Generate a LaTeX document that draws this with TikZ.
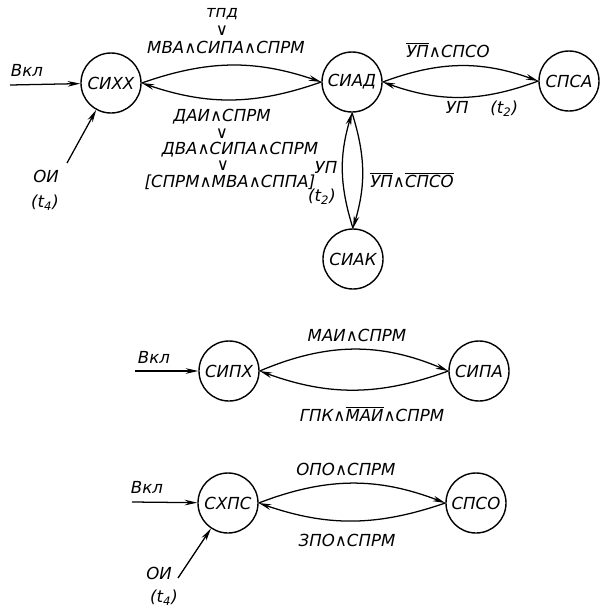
\documentclass[tikz,border=0pt]{standalone}
\usepackage{fontspec}
\setmainfont{DejaVu Sans}
\usetikzlibrary{arrows.meta}
\newcommand{\ngt}[1]{$\overline{\mbox{#1}}$}
\tikzset{
	state/.style={circle, draw, line width=1pt, minimum size=1.5cm, inner sep=0pt},
	arr/.style={-{Stealth[length=9pt,width=4pt]}, line width=0.9pt},
	every node/.style={font=\itshape\fontsize{11.8}{13}\selectfont, inner sep=1pt}
}
\begin{document}
\begin{tikzpicture}
	[x=0.025cm, y=-0.025cm]
	\useasboundingbox (0,0) rectangle (600,608);
	\node[state] (sixx) at (111,83) {СИХХ};
	\node[state] (siad) at (352,82) {СИАД};
	\node[state] (spsa) at (569,81) {СПСА};
	\node[state] (siak) at (353,259) {СИАК};
	\node[state] (sipx) at (229,371) {СИПХ};
	\node[state] (sipa) at (479,371) {СИПА};
	\node[state] (sxps) at (228,503) {СХПС};
	\node[state] (spso) at (476,503) {СПСО};

	\draw[arr] (sixx.east) to[bend left=19] (siad.west);
	\draw[arr] (siad.west) to[bend left=19] (sixx.east);
	\draw[arr] (siad.east) to[bend left=20] (spsa.west);
	\draw[arr] (spsa.west) to[bend left=20] (siad.east);
	\draw[arr] (siak.north) to[bend left=17] (siad.south);
	\draw[arr] (siad.south) to[bend left=17] (siak.north);
	\draw[arr] (sipx.east) to[bend left=23] (sipa.west);
	\draw[arr] (sipa.west) to[bend left=20] (sipx.east);
	\draw[arr] (sxps.east) to[bend left=21] (spso.west);
	\draw[arr] (spso.west) to[bend left=19] (sxps.east);

	\node (vkl1) at (27,70) {Вкл};
	\coordinate (vkl1a) at (10,85);
	\draw[arr] (vkl1a) -- (sixx);
	\node (oi1) at (46,176) {ОИ};
	\node (t41) at (45,203) {(t\textsubscript{4})};
	\coordinate (oi1a) at (67,163);
	\draw[arr] (oi1a) -- (sixx);

	\node (tpd) at (222,14) {тпд};
	\node[inner sep=0pt] (or1) at (222,31) {∨};
	\node (mva) at (226,47) {МВА∧СИПА∧СПРМ};
	\node (dai) at (222,117) {ДАИ∧СПРМ};
	\node[inner sep=0pt] (or2) at (222,134) {∨};
	\node (dva) at (240,150) {ДВА∧СИПА∧СПРМ};
	\node[inner sep=0pt] (or3) at (223,166) {∨};
	\node (sprm) at (230,182) {[СПРМ∧МВА∧СППА]};

	\node (nup1) at (448,50) {\ngt{УП}∧СПСО};
	\node (up1) at (482,109) {УП \quad(t\textsubscript{2})};
	\node (up2) at (326,167) {УП};
	\node (t2) at (322,197) {(t\textsubscript{2})};
	\node (nup2) at (412,180) {\ngt{УП}∧\ngt{СПСО}};

	\node (mai) at (357,335) {МАИ∧СПРМ};
	\node (gpk) at (372,414) {ГПК∧\ngt{МАИ}∧СПРМ};
	\node (vkl2) at (154,357) {Вкл};
	\coordinate (vkl2a) at (135,371);
	\draw[arr] (vkl2a) -- (sipx);

	\node (opo) at (346,469) {ОПО∧СПРМ};
	\node (zpo) at (347,540) {ЗПО∧СПРМ};
	\node (vkl3) at (147,487) {Вкл};
	\coordinate (vkl3a) at (132,502);
	\draw[arr] (vkl3a) -- (sxps);
	\node (oi2) at (159,573) {ОИ};
	\node (t42) at (164,598) {(t\textsubscript{4})};
	\coordinate (oi2a) at (178,578);
	\draw[arr] (oi2a) -- (sxps);
\end{tikzpicture}
\end{document}
